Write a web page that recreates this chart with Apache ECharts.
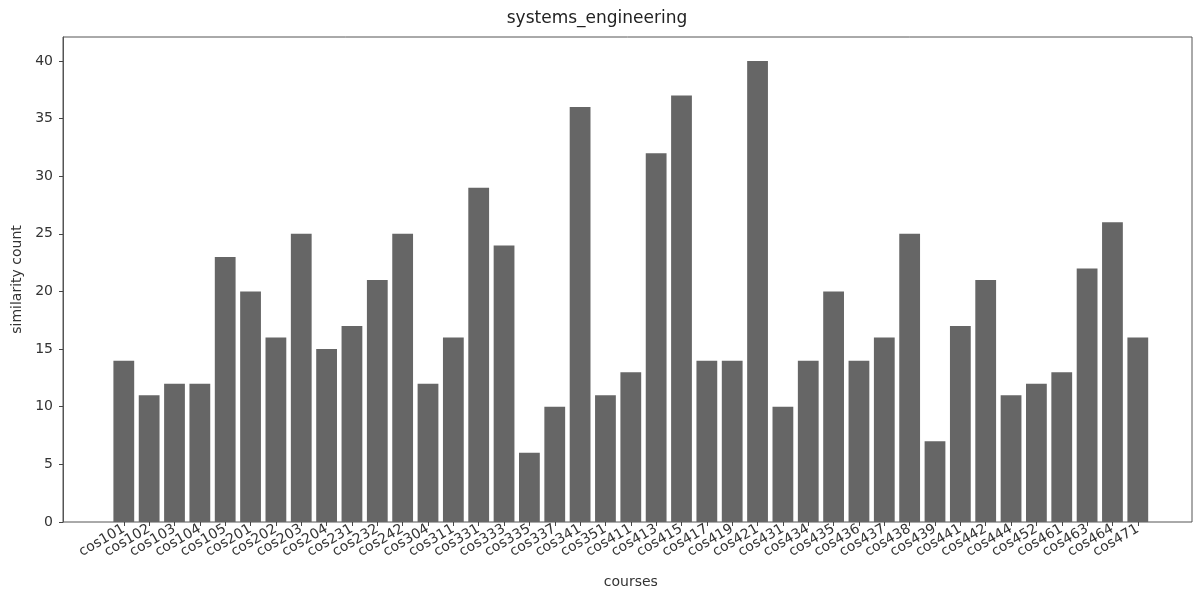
<!DOCTYPE html>
<html>
<head>
<meta charset="utf-8">
<script src="https://cdn.jsdelivr.net/npm/echarts@6/dist/echarts.min.js"></script>
<style>html,body{margin:0;padding:0;background:#fff}#c{width:1194px;height:589px}</style>
</head>
<body>
<div id="c"></div>
<script>
const courses = ["cos101","cos102","cos103","cos104","cos105","cos201","cos202","cos203","cos204","cos231","cos232","cos242","cos304","cos311","cos331","cos333","cos335","cos337","cos341","cos351","cos411","cos413","cos415","cos417","cos419","cos421","cos431","cos434","cos435","cos436","cos437","cos438","cos439","cos441","cos442","cos444","cos452","cos461","cos463","cos464","cos471"];
const similarityCount = [14,11,12,12,23,20,16,25,15,17,21,25,12,16,29,24,6,10,36,11,13,32,37,14,14,40,10,14,20,14,16,25,7,17,21,11,12,13,22,26,16];
const yTicks = [0,5,10,15,20,25,30,35,40];

const chart = echarts.init(document.getElementById('c'), null, {renderer:'canvas'});
const font = 'DejaVu Sans';
const frameLeft = 63, frameRight = 1192, frameTop = 37, frameBottom = 522;
const band = 25.35;
const firstCenter = 123.8;
const barLeft = firstCenter - band/2;
const barRight = barLeft + band*courses.length;
const yMax = 42.08;

chart.setOption({
  animation:false,
  backgroundColor:'#fff',
  title:{text:'systems_engineering', left:'center', top:5,
    textStyle:{fontFamily:font, fontSize:17, fontWeight:'normal', color:'#222'}},
  grid:[
    {left:frameLeft, width:frameRight-frameLeft, top:frameTop, height:frameBottom-frameTop,
     show:true, borderColor:'#555', borderWidth:1, backgroundColor:'transparent',
     containLabel:false, outerBoundsMode:'none'},
    {left:barLeft, width:barRight-barLeft, top:frameTop, height:frameBottom-frameTop,
     containLabel:false, outerBoundsMode:'none'}
  ],
  xAxis:[
    {gridIndex:0, type:'value', min:0, max:1, show:false},
    {gridIndex:1, type:'category', data:courses,
     axisLine:{show:false},
     axisTick:{show:true, alignWithLabel:true, length:4, lineStyle:{color:'#444'}},
     axisLabel:{interval:0, rotate:30, fontFamily:font, fontSize:14, color:'#333', margin:6},
     name:'courses', nameLocation:'middle', nameGap:53,
     nameTextStyle:{fontFamily:font, fontSize:14, color:'#333'}}
  ],
  yAxis:[
    {gridIndex:0, type:'value', min:0, max:yMax,
     axisLine:{show:true, lineStyle:{color:'#555'}},
     axisLabel:{fontFamily:font, fontSize:14, color:'#333', margin:10,
       customValues:yTicks},
     splitLine:{show:false},
     axisTick:{show:true, length:4, customValues:yTicks, lineStyle:{color:'#444'}},
     name:'similarity count', nameLocation:'middle', nameGap:38, nameRotate:90,
     nameTextStyle:{fontFamily:font, fontSize:14, color:'#333'}},
    {gridIndex:1, type:'value', min:0, max:yMax, show:false, splitLine:{show:false}}
  ],
  series:[{
    type:'bar', xAxisIndex:1, yAxisIndex:1, data:similarityCount,
    barCategoryGap:'18%', itemStyle:{color:'#666666'}
  }]
});
</script>
</body>
</html>
